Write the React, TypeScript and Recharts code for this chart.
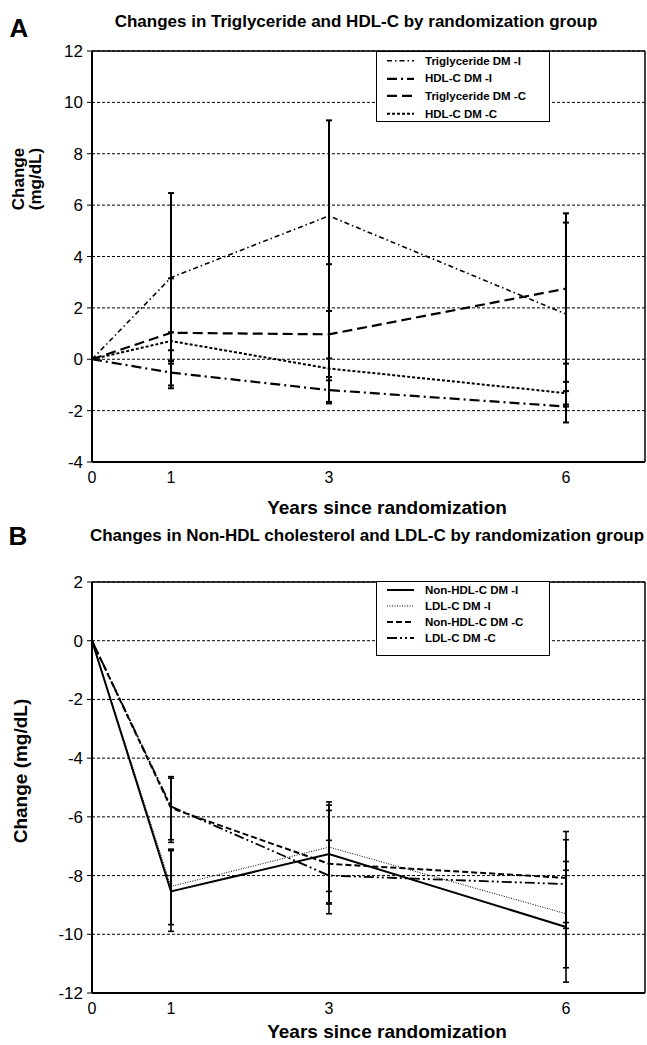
import * as React from "react";
import {
	LineChart,
	Line,
	XAxis,
	YAxis,
	CartesianGrid,
	ErrorBar,
	ReferenceLine,
} from "recharts";

// ─── Data ──────────────────────────────────────────────────────────────────

const years = [0, 1, 3, 6];
const xTicks = [0, 1, 3, 6];
const yTicksA = [-4, -2, 0, 2, 4, 6, 8, 10, 12];
const yTicksB = [-12, -10, -8, -6, -4, -2, 0, 2];

// Panel A: triglyceride / HDL-C
const tgDmI = [0, 3.18, 5.58, 1.76];
const tgDmILow = [null, -0.17, 1.88, -1.84];
const tgDmIHigh = [null, 6.47, 9.3, 5.32];

const hdlDmI = [0, -0.52, -1.2, -1.84];
const hdlDmILow = [null, -1.02, -1.66, -2.46];
const hdlDmIHigh = [null, -0.07, -0.82, -1.24];

const tgDmC = [0, 1.03, 0.97, 2.75];
const tgDmCLow = [null, -1.13, -1.72, -0.17];
const tgDmCHigh = [null, 3.15, 3.7, 5.68];

const hdlDmC = [0, 0.71, -0.36, -1.32];
const hdlDmCLow = [null, 0.35, -0.69, -1.76];
const hdlDmCHigh = [null, 1.05, 0.03, -0.88];

// Panel B: non-HDL / LDL-C
const nonHdlDmI = [0, -8.54, -7.27, -9.75];
const nonHdlDmILow = [null, -9.9, -8.93, -11.63];
const nonHdlDmIHigh = [null, -7.15, -5.6, -7.82];

const ldlDmI = [0, -8.37, -7.03, -9.3];
const ldlDmILow = [null, -9.67, -8.54, -11.14];
const ldlDmIHigh = [null, -7.1, -5.49, -7.52];

const nonHdlDmC = [0, -5.7, -7.6, -8.08];
const nonHdlDmCLow = [null, -6.78, -8.97, -9.6];
const nonHdlDmCHigh = [null, -4.63, -5.78, -6.5];

const ldlDmC = [0, -5.65, -8.0, -8.29];
const ldlDmCLow = [null, -6.87, -9.3, -9.8];
const ldlDmCHigh = [null, -4.68, -6.8, -6.78];

// ─── Series config ─────────────────────────────────────────────────────────

type Series = {
	key: string;
	name: string;
	values: number[];
	low: (number | null)[];
	high: (number | null)[];
	dash?: string;
	width: number;
};

const seriesA: Series[] = [
	{ key: "tgI", name: "Triglyceride DM -I", values: tgDmI, low: tgDmILow, high: tgDmIHigh, dash: "5 3 1.5 3", width: 1.6 },
	{ key: "hdlI", name: "HDL-C DM -I", values: hdlDmI, low: hdlDmILow, high: hdlDmIHigh, dash: "10 4 2 4", width: 2.2 },
	{ key: "tgC", name: "Triglyceride DM -C", values: tgDmC, low: tgDmCLow, high: tgDmCHigh, dash: "10 5", width: 2.2 },
	{ key: "hdlC", name: "HDL-C DM -C", values: hdlDmC, low: hdlDmCLow, high: hdlDmCHigh, dash: "3 2", width: 2 },
];

const seriesB: Series[] = [
	{ key: "nonHdlI", name: "Non-HDL-C DM -I", values: nonHdlDmI, low: nonHdlDmILow, high: nonHdlDmIHigh, width: 2 },
	{ key: "ldlI", name: "LDL-C DM -I", values: ldlDmI, low: ldlDmILow, high: ldlDmIHigh, dash: "1 1.5", width: 1 },
	{ key: "nonHdlC", name: "Non-HDL-C DM -C", values: nonHdlDmC, low: nonHdlDmCLow, high: nonHdlDmCHigh, dash: "6 3", width: 2 },
	{ key: "ldlC", name: "LDL-C DM -C", values: ldlDmC, low: ldlDmCLow, high: ldlDmCHigh, dash: "10 3 2 3 2 3", width: 1.8 },
];

function buildRows(series: Series[]) {
	return years.map((year, i) => {
		const row: Record<string, unknown> = { year };
		for (const s of series) {
			const v = s.values[i];
			row[s.key] = v;
			const lo = s.low[i];
			const hi = s.high[i];
			row[s.key + "Err"] = lo == null || hi == null ? null : [v - lo, hi - v];
		}
		return row;
	});
}

const rowsA = buildRows(seriesA);
const rowsB = buildRows(seriesB);

// ─── Pieces ────────────────────────────────────────────────────────────────

const FONT = "'Liberation Sans', Arial, Helvetica, sans-serif";

function Text({
	x,
	y,
	size,
	bold = true,
	rotate = false,
	children,
}: {
	x: number;
	y: number;
	size: number;
	bold?: boolean;
	rotate?: boolean;
	children: React.ReactNode;
}) {
	return (
		<div
			style={{
				position: "absolute",
				left: x,
				top: y,
				transform: `translate(-50%, -50%)${rotate ? " rotate(-90deg)" : ""}`,
				fontSize: size,
				fontWeight: bold ? "bold" : "normal",
				whiteSpace: "nowrap",
				textAlign: "center",
				lineHeight: 1.0,
			}}
		>
			{children}
		</div>
	);
}

function LegendBox({
	items,
	left,
	top,
	height,
	rowHeight,
}: {
	items: Series[];
	left: number;
	top: number;
	height: number;
	rowHeight: number;
}) {
	return (
		<div
			style={{
				position: "absolute",
				left,
				top,
				width: 174,
				height,
				boxSizing: "border-box",
				border: "1.5px solid #000",
				background: "#fff",
			}}
		>
			{items.map((it) => (
				<div key={it.key} style={{ height: rowHeight, display: "flex", alignItems: "center" }}>
					<svg width={44} height={rowHeight} style={{ flex: "none" }}>
						<line
							x1={10}
							x2={37}
							y1={rowHeight / 2}
							y2={rowHeight / 2}
							stroke="#000"
							strokeWidth={it.width}
							strokeDasharray={it.dash}
						/>
					</svg>
					<span style={{ fontSize: 11.5, fontWeight: "bold", marginLeft: 4 }}>{it.name}</span>
				</div>
			))}
		</div>
	);
}

function Panel({
	rows,
	series,
	top,
	height,
	marginTop,
	yDomain,
	yTicks,
	errWidth,
}: {
	rows: Record<string, unknown>[];
	series: Series[];
	top: number;
	height: number;
	marginTop: number;
	yDomain: [number, number];
	yTicks: number[];
	errWidth: number;
}) {
	return (
		<div style={{ position: "absolute", left: 0, top }}>
			<LineChart
				width={647}
				height={height}
				data={rows}
				margin={{ top: marginTop, right: 2, bottom: 0, left: 0 }}
			>
				<CartesianGrid vertical={false} stroke="#000" strokeDasharray="3 2" strokeWidth={1} />
				<XAxis
					dataKey="year"
					type="number"
					domain={[0, 7]}
					ticks={xTicks}
					interval={0}
					height={28}
					tickLine={false}
					tickMargin={4}
					tick={{ fill: "#000", fontSize: 16 }}
					axisLine={{ stroke: "#000", strokeWidth: 2 }}
				/>
				<YAxis
					type="number"
					domain={yDomain}
					ticks={yTicks}
					interval={0}
					width={92}
					tickSize={5}
					tickMargin={4}
					tick={{ fill: "#000", fontSize: 17 }}
					tickLine={{ stroke: "#000" }}
					axisLine={{ stroke: "#000", strokeWidth: 2 }}
				/>
				<ReferenceLine y={yDomain[1]} stroke="#000" strokeWidth={1.5} />
				<ReferenceLine x={7} stroke="#000" strokeWidth={1.5} />
				{series.map((s) => (
					<Line
						key={s.key}
						dataKey={s.key}
						name={s.name}
						type="linear"
						stroke="#000"
						strokeWidth={s.width}
						strokeDasharray={s.dash}
						dot={false}
						activeDot={false}
						isAnimationActive={false}
					>
						<ErrorBar
							dataKey={s.key + "Err"}
							direction="y"
							width={3}
							stroke="#000"
							strokeWidth={errWidth}
							isAnimationActive={false}
						/>
					</Line>
				))}
			</LineChart>
		</div>
	);
}

// ─── App ───────────────────────────────────────────────────────────────────

export default function App() {
	return (
		<div
			style={{
				position: "absolute",
				left: 0,
				top: 0,
				width: 647,
				height: 1045,
				background: "#fff",
				fontFamily: FONT,
				color: "#000",
				overflow: "hidden",
			}}
		>
			<Panel
				rows={rowsA}
				series={seriesA}
				top={0}
				height={490}
				marginTop={51}
				yDomain={[-4, 12]}
				yTicks={yTicksA}
				errWidth={2}
			/>
			<Panel
				rows={rowsB}
				series={seriesB}
				top={540}
				height={481}
				marginTop={42}
				yDomain={[-12, 2]}
				yTicks={yTicksB}
				errWidth={1.6}
			/>

			<LegendBox items={seriesA} left={376} top={51} height={71} rowHeight={17.6} />
			<LegendBox items={seriesB} left={376} top={581} height={75} rowHeight={16} />

			<Text x={19} y={28} size={26}>A</Text>
			<Text x={356} y={21} size={17}>Changes in Triglyceride and HDL-C by randomization group</Text>
			<Text x={27} y={179} size={17} rotate>
				Change
				<br />
				(mg/dL)
			</Text>
			<Text x={387} y={507} size={19}>Years since randomization</Text>

			<Text x={18} y={536} size={26}>B</Text>
			<Text x={367} y={535} size={17}>Changes in Non-HDL cholesterol and LDL-C by randomization group</Text>
			<Text x={20} y={771} size={19} rotate>Change (mg/dL)</Text>
			<Text x={387} y={1031} size={19}>Years since randomization</Text>
		</div>
	);
}
